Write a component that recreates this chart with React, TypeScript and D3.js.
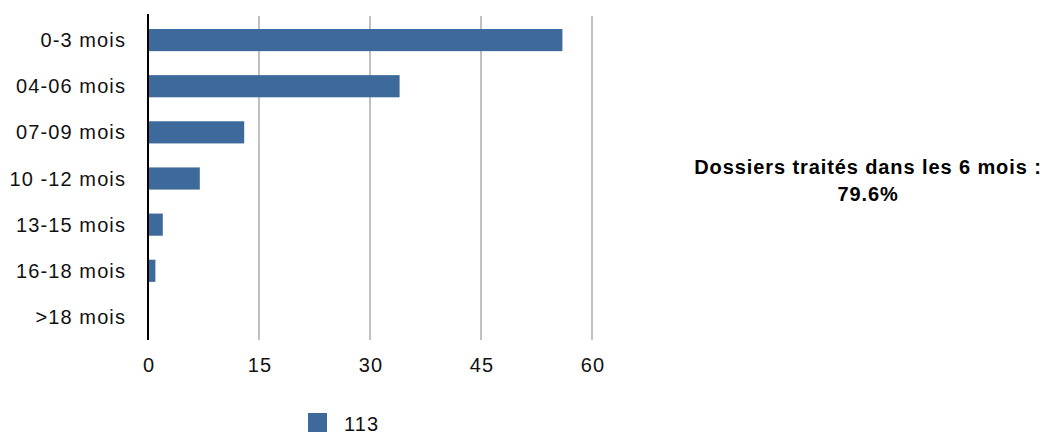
import { useEffect, useRef } from "react";
import * as d3 from "d3";

const categories = ["0-3 mois", "04-06 mois", "07-09 mois", "10 -12 mois", "13-15 mois", "16-18 mois", ">18 mois"];
const counts = [56, 34, 13, 7, 2, 1, 0];
const ticks = [0, 15, 30, 45, 60];
const seriesName = "113";
const noteLines = ["Dossiers traités dans les 6 mois :", "79.6%"];

export default function App() {
  const ref = useRef(null);

  useEffect(() => {
    const svg = d3.select(ref.current);
    svg.selectAll("*").remove();
    const font = "'Liberation Sans', Arial, Helvetica, sans-serif";

    const x = d3.scaleLinear().domain([0, 60]).range([148, 592]);
    const y = d3.scaleBand().domain(categories).range([17, 340]).paddingInner(0.52).paddingOuter(0.26);

    // gridlines
    svg.append("g")
      .selectAll("line")
      .data(ticks.filter(t => t > 0))
      .join("line")
      .attr("x1", d => x(d)).attr("x2", d => x(d))
      .attr("y1", 16).attr("y2", 340)
      .attr("stroke", "#c0c0c0").attr("stroke-width", 2);

    svg.append("g")
      .selectAll("rect")
      .data(counts)
      .join("rect")
      .attr("x", x(0))
      .attr("y", (d, i) => y(categories[i]))
      .attr("width", d => x(d) - x(0))
      .attr("height", y.bandwidth())
      .attr("fill", "#3d6a9b");

    svg.append("line")
      .attr("x1", x(0)).attr("x2", x(0))
      .attr("y1", 14).attr("y2", 340)
      .attr("stroke", "#000").attr("stroke-width", 2);

    svg.append("g")
      .selectAll("text")
      .data(categories)
      .join("text")
      .attr("x", 126)
      .attr("y", d => y(d) + y.bandwidth() / 2)
      .attr("dy", "0.35em")
      .attr("text-anchor", "end")
      .attr("font-family", font)
      .attr("font-size", 20)
      .attr("letter-spacing", 1.1)
      .attr("fill", "#111")
      .text(d => d);

    svg.append("g")
      .selectAll("text")
      .data(ticks)
      .join("text")
      .attr("x", d => x(d) + 1)
      .attr("y", 365)
      .attr("dy", "0.35em")
      .attr("text-anchor", "middle")
      .attr("font-family", font)
      .attr("font-size", 20)
      .attr("letter-spacing", 1.1)
      .attr("fill", "#111")
      .text(d => d);

    // legend
    svg.append("rect").attr("x", 308).attr("y", 413).attr("width", 19).attr("height", 19).attr("fill", "#3d6a9b");
    svg.append("text")
      .attr("x", 344).attr("y", 424).attr("dy", "0.35em")
      .attr("font-family", font).attr("font-size", 20).attr("letter-spacing", 1.1).attr("fill", "#111")
      .text(seriesName);

    svg.append("g")
      .selectAll("text")
      .data(noteLines)
      .join("text")
      .attr("x", 868)
      .attr("y", (d, i) => 167 + i * 27)
      .attr("dy", "0.35em")
      .attr("text-anchor", "middle")
      .attr("font-family", font)
      .attr("font-size", 20)
      .attr("letter-spacing", 0.9)
      .attr("font-weight", "bold")
      .attr("fill", "#000")
      .text(d => d);
  }, []);

  return (
    <svg ref={ref} width={1043} height={435} style={{ position: "absolute", left: 0, top: 0, background: "#fff" }} />
  );
}
